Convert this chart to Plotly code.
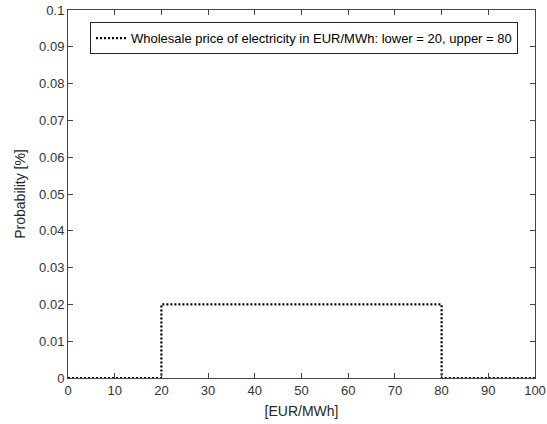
import plotly.graph_objects as go

# step points of the uniform density
price_x = [0, 20, 80, 100]
prob_y = [0, 0.02, 0, 0]
series_name = "Wholesale price of electricity in EUR/MWh: lower = 20, upper = 80"
x_ticks = [0, 10, 20, 30, 40, 50, 60, 70, 80, 90, 100]
y_ticks = [0, 0.01, 0.02, 0.03, 0.04, 0.05, 0.06, 0.07, 0.08, 0.09, 0.1]
y_tick_text = ["0", "0.01", "0.02", "0.03", "0.04", "0.05", "0.06", "0.07", "0.08", "0.09", "0.1"]

FONT = "Liberation Sans, Arial, sans-serif"

fig = go.Figure()
fig.add_trace(go.Scatter(
    x=price_x, y=prob_y, mode="lines", line_shape="hv",
    line=dict(color="black", width=2.2, dash="2px,2px"),
    name=series_name, showlegend=True,
))

axis_common = dict(
    showgrid=False, zeroline=False, showline=True, linecolor="#444444", linewidth=1,
    mirror="ticks", ticks="inside", ticklen=5, tickcolor="#444444", automargin=False,
    tickfont=dict(family=FONT, size=13, color="#333333"),
)

fig.update_layout(
    width=547, height=424,
    margin=dict(l=68, r=12, t=10, b=46),
    plot_bgcolor="white", paper_bgcolor="white",
    font=dict(family=FONT, color="#262626"),
    xaxis=dict(range=[0, 100], tickvals=x_ticks,
               title=dict(text="[EUR/MWh]", font=dict(size=14), standoff=9), **axis_common),
    yaxis=dict(range=[0, 0.1], tickvals=y_ticks, ticktext=y_tick_text,
               title=dict(text="Probability [%]", font=dict(size=14), standoff=10), **axis_common),
    legend=dict(x=0.047, y=0.967, xanchor="left", yanchor="top",
                bordercolor="#262626", borderwidth=1, bgcolor="white",
                font=dict(family=FONT, size=13, color="black"), itemwidth=30,
                tracegroupgap=0),
    showlegend=True,
)

fig.write_html("out.html", config={"displayModeBar": False},
               post_script="document.body.style.margin='0';")
